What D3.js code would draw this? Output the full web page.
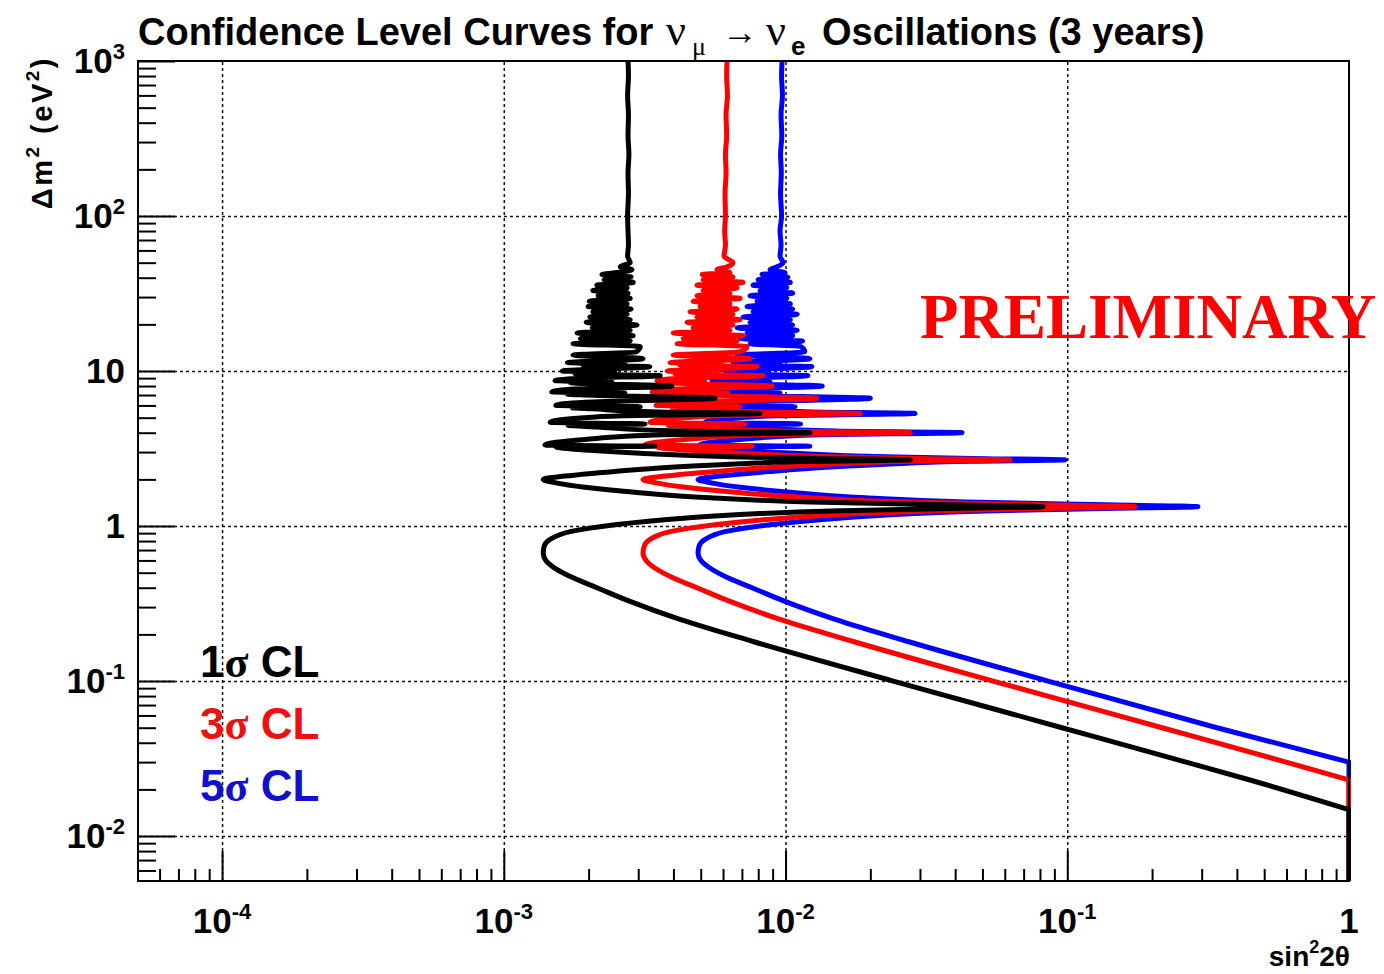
<!DOCTYPE html>
<html>
<head>
<meta charset="utf-8">
<script src="https://cdn.jsdelivr.net/npm/d3@7"></script>
<style>
  body { margin: 0; background: #fff; }
  svg { display: block; }
</style>
</head>
<body>
<svg id="chart" width="1384" height="974"></svg>
<script>
// delta m^2 grid (eV^2), shared by the three curves from top to bottom
var dm2 = [1000, 800, 600, 450, 330, 250, 190, 140, 100, 80, 65, 55, 50, 47, 45, 43,
  42, 40.4, 38.8, 37.3, 35.8, 34.4, 33.1, 31.8, 30.6, 29.4, 28.2, 27.1, 26.1, 25.1,
  24.1, 23.2, 22.3, 21.4, 20.6, 19.8, 19.0, 18.3, 17.6, 16.9, 16.2, 15.6, 15.0, 14.4,
  13.3, 12.67, 12.0, 11.33, 11.1, 10.9, 10.67, 10.0, 9.8, 9.6, 9.33, 9.0, 8.67, 8.5, 8.4,
  8.3, 8.0, 7.65, 7.33, 7.2, 7.1, 7.0, 6.67, 6.3, 6.0, 5.88, 5.8, 5.7, 5.45, 5.33, 5.15,
  4.95, 4.67, 4.55, 4.47, 4.35, 4.1, 4.0, 3.88, 3.62, 3.33, 3.27, 3.24,
  3.2, 3.08, 2.95, 2.8, 2.72, 2.67, 2.62, 2.52, 2.4, 2.25, 2.1, 2.0, 1.9, 1.78, 1.65, 1.52,
  1.43, 1.37, 1.333, 1.30, 1.25, 1.20, 1.12, 1.02, 0.92, 0.82, 0.74, 0.667, 0.6, 0.53,
  0.46, 0.4, 0.33, 0.25, 0.18, 0.1, 0.05, 0.03, 0.023, 0.0148, 0.0051];

// sin^2(2theta) at each dm2 point
var sig1 = [2.76e-3, 2.77e-3, 2.75e-3, 2.77e-3, 2.76e-3, 2.78e-3, 2.76e-3, 2.77e-3, 2.75e-3, 2.76e-3, 2.77e-3, 2.75e-3, 2.81e-3, 2.59e-3, 2.85e-3, 2.48e-3,
  2.23e-3, 2.83e-3, 2.27e-3, 2.88e-3, 2.14e-3, 2.74e-3, 2.07e-3, 2.76e-3, 2.16e-3, 2.81e-3, 2.01e-3, 2.74e-3, 1.99e-3, 2.83e-3,
  2.07e-3, 2.74e-3, 2.02e-3, 2.81e-3, 1.96e-3, 2.97e-3, 2.06e-3, 2.81e-3, 1.82e-3, 2.88e-3, 1.87e-3, 2.81e-3, 1.76e-3, 3.05e-3,
  2.95e-3, 1.76e-3, 3.12e-3, 1.68e-3, 2.69e-3, 1.91e-3, 3.30e-3, 1.61e-3, 2.48e-3, 1.79e-3, 3.59e-3, 1.94e-3, 1.52e-3, 2.42e-3, 1.72e-3,
  1.93e-3, 3.95e-3, 1.80e-3, 1.48e-3, 2.69e-3, 1.68e-3, 1.94e-3, 5.62e-3, 1.94e-3, 1.53e-3, 3.05e-3, 1.75e-3, 2.07e-3, 3.53e-3, 8.12e-3, 2.65e-3,
  1.82e-3, 1.46e-3, 3.17e-3, 1.69e-3, 2.14e-3, 4.22e-3, 1.22e-2, 3.71e-3, 1.94e-3, 1.40e-3, 3.44e-3, 1.53e-3,
  1.58e-3, 2.02e-3, 3.05e-3, 6.35e-3, 1.44e-2, 2.77e-2, 1.27e-2, 6.90e-3, 4.05e-3, 2.48e-3, 1.65e-3, 1.38e-3, 1.53e-3, 1.94e-3, 2.92e-3, 5.40e-3,
  1.22e-2, 3.84e-2, 8.20e-2, 3.84e-2, 1.44e-2, 7.80e-3, 4.22e-3, 2.48e-3, 1.72e-3, 1.46e-3, 1.39e-3, 1.38e-3, 1.41e-3, 1.53e-3,
  1.78e-3, 2.14e-3, 2.76e-3, 4.22e-3, 7.67e-3, 2.41e-2, 9.58e-2, 0.264, 0.445, 1, 1];

var sig3 = [6.20e-3, 6.18e-3, 6.22e-3, 6.15e-3, 6.18e-3, 6.12e-3, 6.15e-3, 6.10e-3, 6.12e-3, 6.08e-3, 6.12e-3, 6.05e-3, 6.51e-3, 6.20e-3, 5.71e-3, 6.35e-3,
  5.06e-3, 6.51e-3, 5.10e-3, 7.07e-3, 4.85e-3, 6.73e-3, 5.10e-3, 6.35e-3, 4.85e-3, 6.90e-3, 4.70e-3, 6.35e-3, 4.97e-3, 6.73e-3,
  4.58e-3, 6.51e-3, 4.85e-3, 6.90e-3, 4.47e-3, 6.51e-3, 4.70e-3, 6.35e-3, 3.99e-3, 7.07e-3, 4.33e-3, 6.73e-3, 4.12e-3, 7.30e-3,
  6.90e-3, 3.99e-3, 7.48e-3, 3.89e-3, 5.95e-3, 4.22e-3, 7.92e-3, 3.80e-3, 5.76e-3, 4.05e-3, 8.32e-3, 4.40e-3, 3.50e-3, 5.18e-3, 3.83e-3,
  4.36e-3, 8.96e-3, 4.09e-3, 3.36e-3, 6.25e-3, 3.74e-3, 4.40e-3, 1.29e-2, 4.40e-3, 3.47e-3, 6.90e-3, 3.95e-3, 4.70e-3, 7.99e-3, 1.84e-2, 6.00e-3,
  4.12e-3, 3.30e-3, 7.18e-3, 3.83e-3, 4.85e-3, 9.56e-3, 2.77e-2, 8.39e-3, 4.40e-3, 3.17e-3, 7.61e-3, 3.50e-3,
  3.59e-3, 4.58e-3, 6.90e-3, 1.44e-2, 3.26e-2, 6.26e-2, 2.88e-2, 1.56e-2, 9.18e-3, 5.62e-3, 3.74e-3, 3.12e-3, 3.47e-3, 4.40e-3, 6.62e-3, 1.22e-2,
  2.66e-2, 8.34e-2, 0.174, 8.34e-2, 3.26e-2, 1.77e-2, 9.56e-3, 5.62e-3, 3.89e-3, 3.30e-3, 3.15e-3, 3.12e-3, 3.20e-3, 3.47e-3,
  4.02e-3, 4.85e-3, 6.25e-3, 9.56e-3, 1.74e-2, 5.45e-2, 0.217, 0.598, 1, 1, 1];

var sig5 = [9.72e-3, 9.68e-3, 9.75e-3, 9.64e-3, 9.70e-3, 9.60e-3, 9.66e-3, 9.60e-3, 9.68e-3, 9.56e-3, 9.64e-3, 9.56e-3, 9.80e-3, 9.33e-3, 8.81e-3, 9.96e-3,
  8.25e-3, 1.02e-2, 7.99e-3, 1.04e-2, 7.67e-3, 1.01e-2, 8.12e-3, 1.06e-2, 7.48e-3, 1.01e-2, 7.92e-3, 1.04e-2, 7.30e-3, 1.06e-2,
  7.67e-3, 1.10e-2, 7.07e-3, 1.04e-2, 7.48e-3, 1.06e-2, 6.73e-3, 1.10e-2, 7.30e-3, 1.06e-2, 6.90e-3, 1.15e-2, 7.48e-3, 1.13e-2,
  1.17e-2, 6.73e-3, 1.22e-2, 6.51e-3, 9.56e-3, 7.01e-3, 1.24e-2, 6.10e-3, 8.67e-3, 6.62e-3, 1.20e-2, 7.01e-3, 5.48e-3, 8.81e-3, 6.25e-3,
  6.90e-3, 1.35e-2, 6.35e-3, 5.27e-3, 9.56e-3, 6.10e-3, 6.90e-3, 2.00e-2, 6.90e-3, 5.44e-3, 1.08e-2, 6.25e-3, 7.36e-3, 1.25e-2, 2.88e-2, 9.40e-3,
  6.46e-3, 5.18e-3, 1.13e-2, 5.95e-3, 7.61e-3, 1.50e-2, 4.23e-2, 1.32e-2, 6.90e-3, 4.97e-3, 1.22e-2, 5.48e-3,
  5.62e-3, 7.18e-3, 1.08e-2, 2.26e-2, 5.11e-2, 9.82e-2, 4.52e-2, 2.45e-2, 1.44e-2, 8.81e-3, 5.86e-3, 4.89e-3, 5.44e-3, 6.90e-3, 1.04e-2, 1.92e-2,
  4.34e-2, 0.136, 0.291, 0.136, 5.11e-2, 2.77e-2, 1.50e-2, 8.81e-3, 6.10e-3, 5.18e-3, 4.93e-3, 4.89e-3, 5.01e-3, 5.44e-3,
  6.30e-3, 7.61e-3, 9.80e-3, 1.50e-2, 2.72e-2, 8.54e-2, 0.340, 1, 1, 1, 1];

// axes
var xMajor = [1e-4, 1e-3, 1e-2, 1e-1, 1];
var xTickBase = ['10', '10', '10', '10', '1'];
var xTickExp = ['-4', '-3', '-2', '-1', ''];
var yMajor = [1e-2, 1e-1, 1, 10, 100, 1000];
var yTickBase = ['10', '10', '1', '10', '10', '10'];
var yTickExp = ['-2', '-1', '', '', '2', '3'];

var legendText = ['1', '3', '5'];
var legendColor = ['#000000', '#ee1111', '#1111cc'];

var sans = '"Liberation Sans", Arial, Helvetica, sans-serif';
var serif = '"Liberation Serif", "Times New Roman", serif';

// frame edges (window.top is read-only, so no bare "top")
var fL = 138, fR = 1349, fT = 61, fB = 881;

var svg = d3.select('#chart');

var x = d3.scaleLog().domain([5.03e-5, 1]).range([fL, fR]);
var y = d3.scaleLog().domain([5.13e-3, 1000]).range([fB, fT]);

var isDecade = v => Math.abs(Math.log10(v) - Math.round(Math.log10(v))) < 1e-6;
var xMinor = x.ticks().filter(v => !isDecade(v));
var yMinor = y.ticks().filter(v => !isDecade(v));

svg.append('defs').append('clipPath').attr('id', 'clip')
  .append('rect')
    .attr('x', fL)
    .attr('y', fT)
    .attr('width', fR - fL + 2)
    .attr('height', fB - fT);

// grid
var gridX = svg.append('g')
  .attr('transform', 'translate(0,' + fB + ')')
  .call(d3.axisBottom(x).tickValues(xMajor.slice(0, 4)).tickSize(-(fB - fT)).tickFormat(''));
var gridY = svg.append('g')
  .attr('transform', 'translate(' + fL + ',0)')
  .call(d3.axisLeft(y).tickValues(yMajor.slice(0, 5)).tickSize(-(fR - fL)).tickFormat(''));
[gridX, gridY].forEach(g => {
  g.select('.domain').remove();
  g.selectAll('line')
    .attr('stroke', '#111')
    .attr('stroke-width', 1.5)
    .attr('stroke-dasharray', '3,3');
});

// curves (blue under red under black); smooth part, then straight run along sin^2 = 1
var smooth = d3.line()
  .x(d => x(d[1]))
  .y(d => y(d[0]))
  .curve(d3.curveMonotoneY);
var straight = d3.line()
  .x(d => x(d[1]))
  .y(d => y(d[0]));

[[sig5, '#0000ff'], [sig3, '#ff0000'], [sig1, '#000000']].forEach(c => {
  var pts = dm2.map((d, i) => [d, c[0][i]]);
  var k = pts.findIndex(p => p[1] >= 1);
  var g = svg.append('g')
    .attr('clip-path', 'url(#clip)')
    .attr('fill', 'none')
    .attr('stroke', c[1])
    .attr('stroke-width', 5)
    .attr('stroke-linejoin', 'round')
    .attr('stroke-linecap', 'round');
  g.append('path').datum(pts.slice(0, k + 1)).attr('d', smooth);
  g.append('path').datum(pts.slice(k)).attr('d', straight);
});

// ticks inside the frame
function tickAxis(axis, transform) {
  var g = svg.append('g').attr('transform', transform).call(axis);
  g.select('.domain').remove();
  g.selectAll('line').attr('stroke', '#000').attr('stroke-width', 2);
}
tickAxis(d3.axisLeft(y).tickValues(yMajor).tickSize(-37).tickFormat(''), 'translate(' + fL + ',0)');
tickAxis(d3.axisLeft(y).tickValues(yMinor).tickSize(-18).tickFormat(''), 'translate(' + fL + ',0)');
tickAxis(d3.axisBottom(x).tickValues(xMajor).tickSize(-30).tickFormat(''), 'translate(0,' + fB + ')');
tickAxis(d3.axisBottom(x).tickValues(xMinor).tickSize(-12).tickFormat(''), 'translate(0,' + fB + ')');

// frame
svg.append('rect')
  .attr('x', fL)
  .attr('y', fT)
  .attr('width', fR - fL)
  .attr('height', fB - fT)
  .attr('fill', 'none')
  .attr('stroke', '#000')
  .attr('stroke-width', 2);

// tick labels
yMajor.forEach((v, i) => {
  var t = svg.append('text')
    .attr('x', 125)
    .attr('y', y(v) + 12)
    .attr('text-anchor', 'end')
    .attr('font-family', sans)
    .attr('font-weight', 'bold')
    .attr('font-size', 35);
  t.append('tspan').text(yTickBase[i]);
  if (yTickExp[i]) t.append('tspan').attr('font-size', 22).attr('dy', -14).text(yTickExp[i]);
});

xMajor.forEach((v, i) => {
  var t = svg.append('text')
    .attr('x', x(v))
    .attr('y', 933)
    .attr('text-anchor', 'middle')
    .attr('font-family', sans)
    .attr('font-weight', 'bold')
    .attr('font-size', 35);
  t.append('tspan').text(xTickBase[i]);
  if (xTickExp[i]) t.append('tspan').attr('font-size', 22).attr('dy', -14).text(xTickExp[i]);
});

// axis titles
var xt = svg.append('text')
  .attr('x', 1350)
  .attr('y', 966)
  .attr('text-anchor', 'end')
  .attr('font-family', sans)
  .attr('font-weight', 'bold')
  .attr('font-size', 28);
xt.append('tspan').text('sin');
xt.append('tspan').attr('font-size', 18).attr('dy', -13).text('2');
xt.append('tspan').attr('dy', 13).text('2θ');

var yt = svg.append('text')
  .attr('transform', 'translate(52,56) rotate(-90)')
  .attr('text-anchor', 'end')
  .attr('font-family', sans)
  .attr('font-weight', 'bold')
  .attr('font-size', 29)
  .attr('letter-spacing', 2.5);
yt.append('tspan').text('Δm');
yt.append('tspan').attr('font-size', 19).attr('dy', -13).text('2');
yt.append('tspan').attr('dy', 13).text(' (eV');
yt.append('tspan').attr('font-size', 19).attr('dy', -13).text('2');
yt.append('tspan').attr('dy', 13).text(')');

// title
function label(txt, xp, yp, size, family, weight) {
  return svg.append('text')
    .attr('x', xp).attr('y', yp)
    .attr('font-family', family)
    .attr('font-weight', weight)
    .attr('font-size', size)
    .text(txt);
}
label('Confidence Level Curves for', 138, 45, 38, sans, 'bold');
label('ν', 666, 45, 44, serif, 'normal');
label('μ', 692, 55, 26, serif, 'normal');
label('→', 722, 44, 36, serif, 'normal');
label('ν', 766, 45, 44, serif, 'normal');
label('e', 791, 55, 26, sans, 'bold');
label('Oscillations (3 years)', 822, 45, 38, sans, 'bold');

// preliminary stamp
label('PRELIMINARY', 920, 338, 63, serif, 'bold').attr('fill', '#ff0000');

// legend
legendText.forEach((n, i) => {
  var t = svg.append('text')
    .attr('x', 200)
    .attr('y', 677 + i * 62)
    .attr('font-family', sans)
    .attr('font-weight', 'bold')
    .attr('font-size', 44)
    .attr('fill', legendColor[i]);
  t.append('tspan').text(n);
  t.append('tspan').attr('font-family', serif).text('σ');
  t.append('tspan').text(' CL');
});
</script>
</body>
</html>
